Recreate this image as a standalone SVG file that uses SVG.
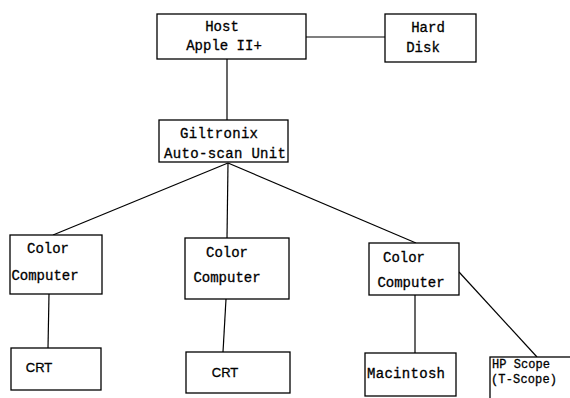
<svg xmlns="http://www.w3.org/2000/svg" width="570" height="398" viewBox="0 0 570 398">
<style>
.box{fill:#fff;stroke:#000;stroke-width:1.3}
.c{fill:none;stroke:#000;stroke-width:1.2}
text{font-family:"Liberation Mono","DejaVu Sans Mono",monospace;font-size:14px;fill:#000;stroke:#000;stroke-width:0.3}
.s{font-family:"Liberation Sans",Arial,sans-serif;font-size:13px}
.sm{font-size:12px}
</style>
<rect width="570" height="398" fill="#fff"/>
<g id="connectors">
<line class="c" x1="306" y1="37" x2="385" y2="37"/>
<line class="c" x1="227" y1="59" x2="227" y2="120"/>
<line class="c" x1="228" y1="163" x2="53" y2="235"/>
<line class="c" x1="228" y1="163" x2="227" y2="238"/>
<line class="c" x1="228" y1="163" x2="416" y2="243"/>
<line class="c" x1="49" y1="294" x2="48" y2="348"/>
<line class="c" x1="226" y1="299" x2="223" y2="352"/>
<line class="c" x1="415" y1="295" x2="415" y2="353"/>
<line class="c" x1="459" y1="272" x2="537" y2="357"/>
</g>
<g id="host">
<rect class="box" x="157" y="14" width="149" height="45"/>
<text x="222" y="31" text-anchor="middle">Host</text>
<text x="224" y="50" text-anchor="middle">Apple II+</text>
</g>
<g id="harddisk">
<rect class="box" x="385" y="14" width="91" height="48"/>
<text x="428" y="32" text-anchor="middle">Hard</text>
<text x="423" y="52" text-anchor="middle">Disk</text>
</g>
<g id="giltronix">
<rect class="box" x="159" y="120" width="129" height="42"/>
<text x="219" y="138" text-anchor="middle" textLength="78">Giltronix</text>
<text x="225" y="158" text-anchor="middle" textLength="122">Auto-scan Unit</text>
</g>
<g id="cc1">
<rect class="box" x="10" y="235" width="92" height="59"/>
<text x="48" y="253" text-anchor="middle">Color</text>
<text x="45" y="280" text-anchor="middle">Computer</text>
</g>
<g id="cc2">
<rect class="box" x="185" y="238" width="104" height="61"/>
<text x="227" y="257" text-anchor="middle">Color</text>
<text x="227" y="282" text-anchor="middle">Computer</text>
</g>
<g id="cc3">
<rect class="box" x="369" y="243" width="90" height="52"/>
<text x="404" y="262" text-anchor="middle">Color</text>
<text x="411" y="287" text-anchor="middle">Computer</text>
</g>
<g id="crt1">
<rect class="box" x="11" y="348" width="90" height="42"/>
<text class="s" x="39" y="372" text-anchor="middle">CRT</text>
</g>
<g id="crt2">
<rect class="box" x="186" y="352" width="104" height="41"/>
<text class="s" x="225" y="377" text-anchor="middle">CRT</text>
</g>
<g id="macintosh">
<rect class="box" x="365" y="353" width="91" height="43"/>
<text x="406" y="378" text-anchor="middle" textLength="78">Macintosh</text>
</g>
<g id="hpscope">
<rect class="box" x="490" y="357" width="85" height="45"/>
<text class="sm" x="492" y="368" textLength="58">HP Scope</text>
<text class="sm" x="491" y="383" textLength="66">(T-Scope)</text>
</g>
</svg>
